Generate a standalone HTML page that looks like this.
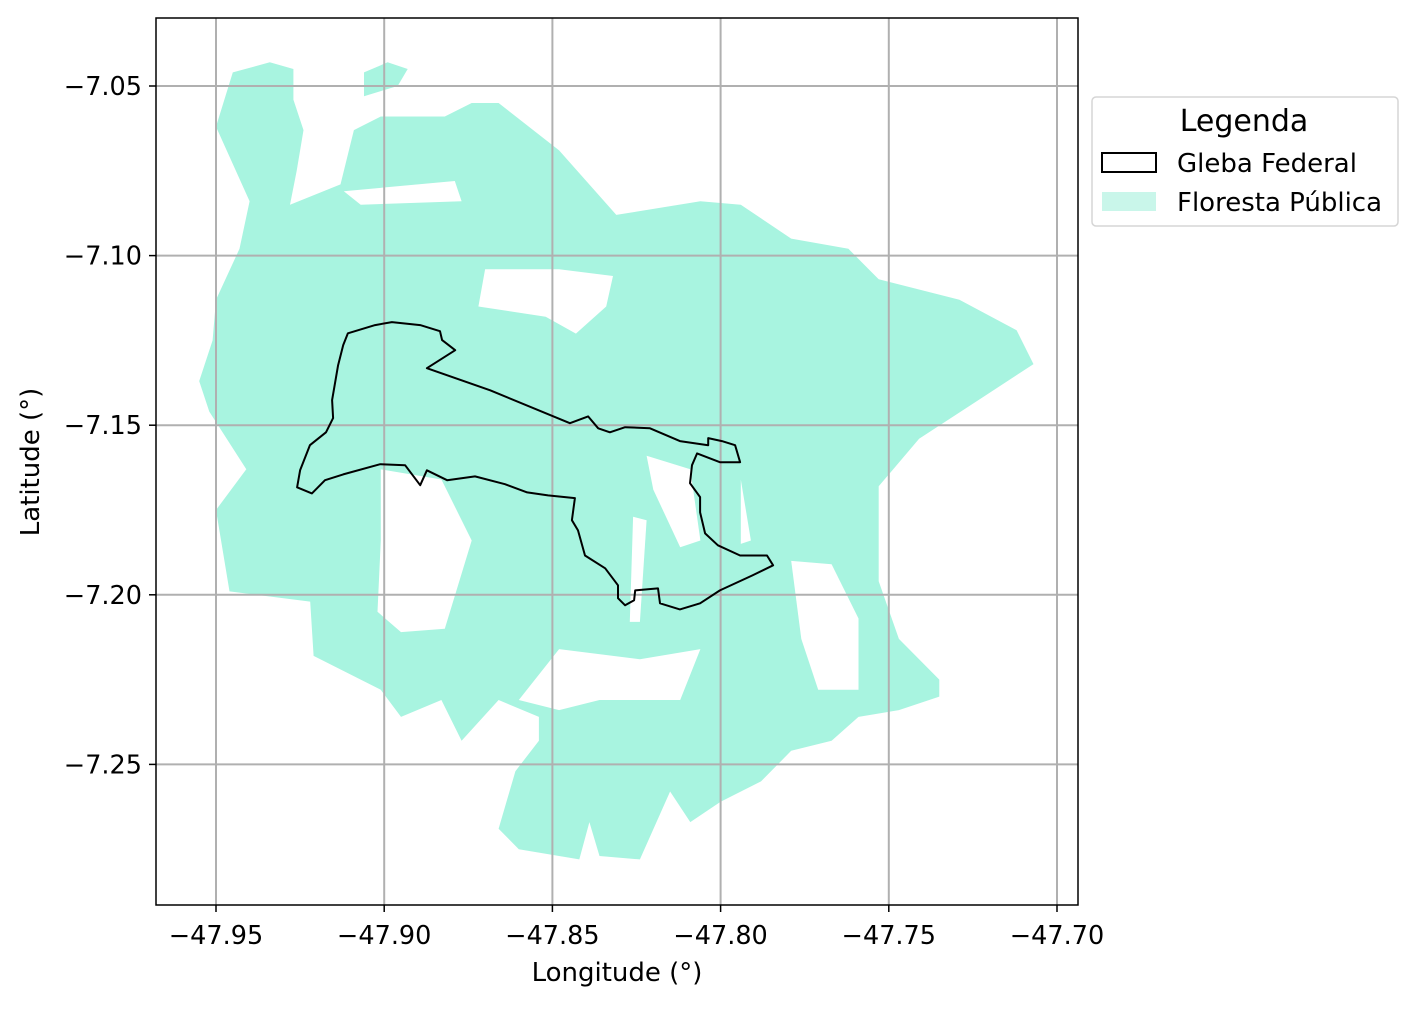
<!DOCTYPE html>
<html><head><meta charset="utf-8">
<style>
html,body{margin:0;padding:0;background:#fff;}
svg text{font-family:"DejaVu Sans","Liberation Sans",sans-serif;fill:#000;}
</style></head>
<body>
<svg id="chart" width="1416" height="1006" viewBox="0 0 1416 1006" xmlns="http://www.w3.org/2000/svg">
<rect width="1416" height="1006" fill="#fff"/>
<g id="forest"></g>
<g id="holes"></g>
<g id="grid"></g>
<g id="gleba"></g>
<rect x="156" y="18" width="922" height="887" fill="none" stroke="#000" stroke-width="1.5"/>
<g id="ticks"></g>
<text x="617" y="981" font-size="26" text-anchor="middle">Longitude (°)</text>
<text transform="translate(39,462) rotate(-90)" font-size="26" text-anchor="middle">Latitude (°)</text>
<g>
<rect x="1092" y="97" width="306" height="129" rx="4" fill="#fff" stroke="#d5d5d5" stroke-width="1.5"/>
<text x="1244" y="131" font-size="30" text-anchor="middle">Legenda</text>
<rect x="1102" y="153" width="54" height="19" fill="none" stroke="#000" stroke-width="2"/>
<text x="1177" y="172" font-size="26">Gleba Federal</text>
<rect x="1102" y="192" width="54" height="19" fill="#c9f6ea"/>
<text x="1177" y="211" font-size="26">Floresta Pública</text>
</g>
</svg>
<script>
const xTicks = [-47.95, -47.90, -47.85, -47.80, -47.75, -47.70];
const xTickLabels = ["\u221247.95","\u221247.90","\u221247.85","\u221247.80","\u221247.75","\u221247.70"];
const yTicks = [-7.05, -7.10, -7.15, -7.20, -7.25];
const yTickLabels = ["\u22127.05","\u22127.10","\u22127.15","\u22127.20","\u22127.25"];
const forestLon = [-47.950,-47.945,-47.934,-47.927,-47.927,-47.924,-47.926,-47.928,-47.913,-47.909,-47.901,-47.882,-47.874,-47.866,-47.848,-47.831,-47.806,-47.794,-47.779,-47.762,-47.753,-47.729,-47.712,-47.707,-47.724,-47.741,-47.753,-47.753,-47.747,-47.735,-47.735,-47.747,-47.759,-47.767,-47.779,-47.788,-47.800,-47.809,-47.815,-47.824,-47.836,-47.839,-47.842,-47.860,-47.866,-47.861,-47.854,-47.854,-47.866,-47.877,-47.883,-47.895,-47.901,-47.921,-47.922,-47.946,-47.950,-47.941,-47.952,-47.955,-47.951,-47.950,-47.943,-47.940];
const forestLat = [-7.062,-7.046,-7.043,-7.045,-7.054,-7.063,-7.075,-7.085,-7.079,-7.063,-7.059,-7.059,-7.055,-7.055,-7.069,-7.088,-7.084,-7.085,-7.095,-7.098,-7.107,-7.113,-7.122,-7.132,-7.143,-7.154,-7.168,-7.196,-7.213,-7.225,-7.230,-7.234,-7.236,-7.243,-7.246,-7.255,-7.261,-7.267,-7.258,-7.278,-7.277,-7.267,-7.278,-7.275,-7.269,-7.252,-7.243,-7.236,-7.231,-7.243,-7.231,-7.236,-7.228,-7.218,-7.202,-7.199,-7.175,-7.163,-7.146,-7.137,-7.125,-7.113,-7.098,-7.084];
const islandLon = [-47.906,-47.899,-47.893,-47.896,-47.906];
const islandLat = [-7.046,-7.043,-7.045,-7.050,-7.053];
const holesLon = [
 [-47.901,-47.883,-47.874,-47.882,-47.895,-47.902,-47.901],
 [-47.870,-47.848,-47.832,-47.834,-47.843,-47.852,-47.872],
 [-47.912,-47.879,-47.877,-47.907],
 [-47.822,-47.809,-47.806,-47.812,-47.820],
 [-47.794,-47.791,-47.794],
 [-47.779,-47.767,-47.759,-47.759,-47.771,-47.776],
 [-47.848,-47.824,-47.806,-47.812,-47.836,-47.848,-47.860],
 [-47.826,-47.822,-47.824,-47.827]
];
const holesLat = [
 [-7.163,-7.166,-7.184,-7.210,-7.211,-7.205,-7.184],
 [-7.104,-7.104,-7.106,-7.115,-7.123,-7.118,-7.115],
 [-7.081,-7.078,-7.084,-7.085],
 [-7.159,-7.163,-7.184,-7.186,-7.169],
 [-7.166,-7.184,-7.185],
 [-7.190,-7.191,-7.207,-7.228,-7.228,-7.213],
 [-7.216,-7.219,-7.216,-7.231,-7.231,-7.234,-7.231],
 [-7.177,-7.178,-7.208,-7.208]
];
const glebaLon = [-47.9259,-47.9250,-47.9221,-47.9173,-47.9152,-47.9155,-47.9137,-47.9122,-47.9108,-47.9027,-47.8977,-47.8893,-47.8834,-47.8828,-47.8789,-47.8873,-47.8685,-47.8448,-47.8394,-47.8364,-47.8329,-47.8284,-47.8210,-47.8121,-47.8037,-47.8037,-47.7996,-47.7957,-47.7942,-47.8002,-47.8070,-47.8085,-47.8091,-47.8061,-47.8061,-47.8046,-47.8008,-47.7942,-47.7862,-47.7844,-47.7906,-47.8002,-47.8061,-47.8121,-47.8180,-47.8186,-47.8254,-47.8257,-47.8284,-47.8305,-47.8305,-47.8343,-47.8403,-47.8424,-47.8442,-47.8433,-47.8513,-47.8575,-47.8641,-47.8730,-47.8813,-47.8873,-47.8893,-47.8938,-47.9012,-47.9122,-47.9176,-47.9215,-47.9259];
const glebaLat = [-7.1683,-7.1633,-7.1559,-7.1521,-7.1479,-7.1426,-7.1323,-7.1264,-7.1229,-7.1205,-7.1196,-7.1205,-7.1223,-7.1249,-7.1279,-7.1332,-7.1397,-7.1494,-7.1474,-7.1509,-7.1521,-7.1506,-7.1509,-7.1547,-7.1559,-7.1538,-7.1547,-7.1559,-7.1609,-7.1609,-7.1583,-7.1618,-7.1671,-7.1712,-7.1757,-7.1819,-7.1854,-7.1884,-7.1884,-7.1913,-7.1943,-7.1987,-7.2025,-7.2043,-7.2025,-7.1981,-7.1987,-7.2016,-7.2031,-7.2010,-7.1972,-7.1922,-7.1884,-7.1810,-7.1780,-7.1715,-7.1707,-7.1698,-7.1674,-7.1651,-7.1662,-7.1633,-7.1677,-7.1618,-7.1615,-7.1645,-7.1662,-7.1701,-7.1683];

const NS = "http://www.w3.org/2000/svg";
function sx(lon){ return 216 + (lon + 47.95) / 0.05 * 168.2; }
function sy(lat){ return 86 + (-7.05 - lat) / 0.05 * 169.6; }
function pts(lons, lats){ return lons.map((v,i)=>sx(v).toFixed(1)+","+sy(lats[i]).toFixed(1)).join(" "); }

const forest = document.getElementById("forest");
let p = document.createElementNS(NS,"polygon");
p.setAttribute("points", pts(forestLon, forestLat));
p.setAttribute("fill","#a8f4e0");


forest.appendChild(p);
p = document.createElementNS(NS,"polygon");
p.setAttribute("points", pts(islandLon, islandLat));
p.setAttribute("fill","#a8f4e0");


forest.appendChild(p);

const holes = document.getElementById("holes");
holesLon.forEach((h,i)=>{
  const q = document.createElementNS(NS,"polygon");
  q.setAttribute("points", pts(h, holesLat[i]));
  q.setAttribute("fill","#fff");
  
  
  holes.appendChild(q);
});

const grid = document.getElementById("grid");
const ticks = document.getElementById("ticks");
xTicks.forEach((t,i)=>{
  const x = sx(t);
  const l = document.createElementNS(NS,"line");
  l.setAttribute("x1",x); l.setAttribute("x2",x); l.setAttribute("y1",18); l.setAttribute("y2",905);
  l.setAttribute("stroke","#b0b0b0"); l.setAttribute("stroke-width","2");
  
  
  grid.appendChild(l);
  const tk = document.createElementNS(NS,"line");
  tk.setAttribute("x1",x); tk.setAttribute("x2",x); tk.setAttribute("y1",905); tk.setAttribute("y2",912);
  tk.setAttribute("stroke","#000"); tk.setAttribute("stroke-width","1.5");
  
  
  ticks.appendChild(tk);
  const tx = document.createElementNS(NS,"text");
  tx.setAttribute("x",x); tx.setAttribute("y",944); tx.setAttribute("font-size","25.5"); tx.setAttribute("text-anchor","middle");
  tx.textContent = xTickLabels[i];
  
  
  ticks.appendChild(tx);
});
yTicks.forEach((t,i)=>{
  const y = sy(t);
  const l = document.createElementNS(NS,"line");
  l.setAttribute("x1",156); l.setAttribute("x2",1078); l.setAttribute("y1",y); l.setAttribute("y2",y);
  l.setAttribute("stroke","#b0b0b0"); l.setAttribute("stroke-width","2");
  
  
  grid.appendChild(l);
  const tk = document.createElementNS(NS,"line");
  tk.setAttribute("x1",149); tk.setAttribute("x2",156); tk.setAttribute("y1",y); tk.setAttribute("y2",y);
  tk.setAttribute("stroke","#000"); tk.setAttribute("stroke-width","1.5");
  
  
  ticks.appendChild(tk);
  const tx = document.createElementNS(NS,"text");
  tx.setAttribute("x",142); tx.setAttribute("y",y+9); tx.setAttribute("font-size","25.5"); tx.setAttribute("text-anchor","end");
  tx.textContent = yTickLabels[i];
  
  
  ticks.appendChild(tx);
});

const gleba = document.getElementById("gleba");
const g = document.createElementNS(NS,"polygon");
g.setAttribute("points", pts(glebaLon, glebaLat));
g.setAttribute("fill","none"); g.setAttribute("stroke","#000"); g.setAttribute("stroke-width","2"); g.setAttribute("stroke-linejoin","round");


gleba.appendChild(g);
</script>
</body></html>
